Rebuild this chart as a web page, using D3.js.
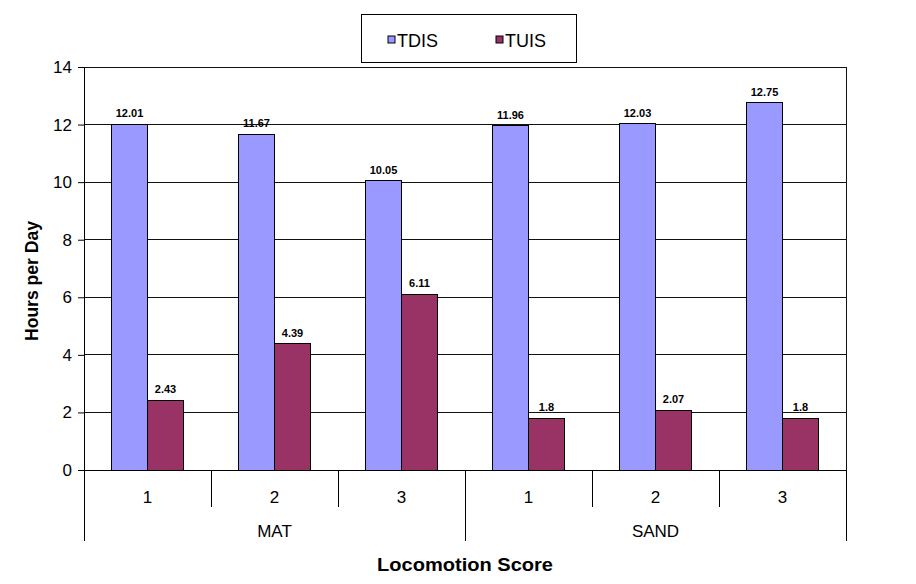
<!DOCTYPE html>
<html>
<head>
<meta charset="utf-8">
<script src="https://cdn.jsdelivr.net/npm/d3@7"></script>
<style>
	body { margin: 0; background: #fff; }
	text { font-family: "Liberation Sans", Arial, sans-serif; }
</style>
</head>
<body>
<div id="chart"></div>
<script>

// chart data
var surfaces = ["MAT", "SAND"]
var scores = ["1", "2", "3"]
var series = ["TDIS", "TUIS"]
var tdis = [12.01, 11.67, 10.05, 11.96, 12.03, 12.75]
var tuis = [2.43, 4.39, 6.11, 1.8, 2.07, 1.8]
var colors = ["#9999ff", "#993366"]
var y_ticks = [0, 2, 4, 6, 8, 10, 12, 14]

var width = 916, height = 584
var margin = {left: 84, right: 70, top: 67, bottom: 114}
var plot_width = width - margin.left - margin.right
var plot_height = height - margin.top - margin.bottom

// one entry per bar group
var groups = []
surfaces.forEach((s, si) => {
	scores.forEach((c, ci) => {
		groups.push({key: s + "-" + c, surface: s, score: c, values: [tdis[si*3+ci], tuis[si*3+ci]]})
	})
})

var svg = d3.select("#chart").append("svg")
	.attr("width", width)
	.attr("height", height)

var g = svg.append("g")
	.attr("transform", "translate(" + margin.left + "," + margin.top + ")")

var x_scale = d3.scaleBand()
	.domain(groups.map(d => d.key))
	.range([0, plot_width])
	.paddingInner(0)
	.paddingOuter(0)

var inner_scale = d3.scaleBand()
	.domain(series)
	.range([x_scale.bandwidth()/2 - 36, x_scale.bandwidth()/2 + 36])

var y_scale = d3.scaleLinear()
	.domain([0, 14])
	.range([plot_height, 0])

// gridlines
g.append("g")
	.selectAll("line")
	.data(y_ticks.slice(1))
	.enter()
	.append("line")
		.attr("x1", 0)
		.attr("x2", plot_width)
		.attr("y1", d => y_scale(d))
		.attr("y2", d => y_scale(d))
		.attr("stroke", "#111")
		.attr("stroke-width", 1)
		.attr("shape-rendering", "crispEdges")

// plot frame
g.append("rect")
	.attr("x", 0)
	.attr("y", 0)
	.attr("width", plot_width)
	.attr("height", plot_height)
	.attr("fill", "none")
	.attr("stroke", "#111")
	.attr("shape-rendering", "crispEdges")

// y axis
var y_axis = g.append("g")
	.call(d3.axisLeft(y_scale).tickValues(y_ticks).tickSize(6).tickPadding(6))
y_axis.select(".domain").attr("stroke", "#000")
y_axis.selectAll(".tick line").attr("stroke", "#000")
y_axis.selectAll("text")
	.style("font-size", "17px")
	.style("font-family", "Liberation Sans, Arial, sans-serif")
	.attr("fill", "#000")

// bars
var bar_grp = g.selectAll(".bar-grp")
	.data(groups)
	.enter()
	.append("g")
		.attr("class", "bar-grp")
		.attr("transform", d => "translate(" + x_scale(d.key) + ",0)")

bar_grp.selectAll("rect")
	.data(d => d.values.map((v, i) => ({series: series[i], value: v, i: i})))
	.enter()
	.append("rect")
		.attr("x", d => inner_scale(d.series))
		.attr("y", d => y_scale(d.value))
		.attr("width", inner_scale.bandwidth())
		.attr("height", d => plot_height - y_scale(d.value))
		.attr("fill", d => colors[d.i])
		.attr("stroke", "#000")
		.attr("stroke-width", 1)
		.attr("shape-rendering", "crispEdges")

bar_grp.selectAll(".val")
	.data(d => d.values.map((v, i) => ({series: series[i], value: v})))
	.enter()
	.append("text")
		.attr("class", "val")
		.attr("text-anchor", "middle")
		.attr("x", d => inner_scale(d.series) + inner_scale.bandwidth()/2)
		.attr("y", d => y_scale(d.value) - 7)
		.style("font-size", "11px")
		.style("font-weight", "bold")
		.text(d => d.value)

// category axis (two levels)
var cat = g.append("g")
	.attr("transform", "translate(0," + plot_height + ")")

cat.append("line")
	.attr("x1", 0).attr("x2", plot_width)
	.attr("y1", 0).attr("y2", 0)
	.attr("stroke", "#000")
	.attr("shape-rendering", "crispEdges")

var boundaries = d3.range(groups.length + 1)
cat.selectAll(".cat-tick")
	.data(boundaries)
	.enter()
	.append("line")
		.attr("class", "cat-tick")
		.attr("x1", d => d * x_scale.step())
		.attr("x2", d => d * x_scale.step())
		.attr("y1", 0)
		.attr("y2", d => d % 3 == 0 ? 71 : 37)
		.attr("stroke", "#000")
		.attr("shape-rendering", "crispEdges")

cat.selectAll(".score")
	.data(groups)
	.enter()
	.append("text")
		.attr("class", "score")
		.attr("text-anchor", "middle")
		.attr("x", d => x_scale(d.key) + x_scale.bandwidth()/2)
		.attr("y", 33)
		.style("font-size", "17px")
		.text(d => d.score)

cat.selectAll(".surface")
	.data(surfaces)
	.enter()
	.append("text")
		.attr("class", "surface")
		.attr("text-anchor", "middle")
		.attr("x", (d, i) => (i * 3 + 1.5) * x_scale.step())
		.attr("y", 67)
		.style("font-size", "17px")
		.text(d => d)

// axis titles
svg.append("text")
	.attr("text-anchor", "middle")
	.attr("x", 465)
	.attr("y", 571)
	.attr("textLength", 176)
	.attr("lengthAdjust", "spacingAndGlyphs")
	.style("font-size", "18px")
	.style("font-weight", "bold")
	.text("Locomotion Score")

svg.append("text")
	.attr("transform", "rotate(-90)")
	.attr("text-anchor", "middle")
	.attr("x", -281)
	.attr("y", 38)
	.attr("textLength", 120)
	.attr("lengthAdjust", "spacingAndGlyphs")
	.style("font-size", "18px")
	.style("font-weight", "bold")
	.text("Hours per Day")

// legend
var legend = svg.append("g")
	.attr("transform", "translate(361,14)")

legend.append("rect")
	.attr("x", 0.5).attr("y", 0.5)
	.attr("width", 215).attr("height", 48)
	.attr("fill", "#fff")
	.attr("stroke", "#000")

var legend_item = legend.selectAll(".leg")
	.data(series)
	.enter()
	.append("g")
		.attr("class", "leg")
		.attr("transform", (d, i) => "translate(" + (27 + i * 108) + ",22)")

legend_item.append("rect")
	.attr("width", 7).attr("height", 7)
	.attr("fill", (d, i) => colors[i])
	.attr("stroke", "#000")

legend_item.append("text")
	.attr("x", 9)
	.attr("y", 11)
	.style("font-size", "18px")
	.text(d => d)

</script>
</body>
</html>
